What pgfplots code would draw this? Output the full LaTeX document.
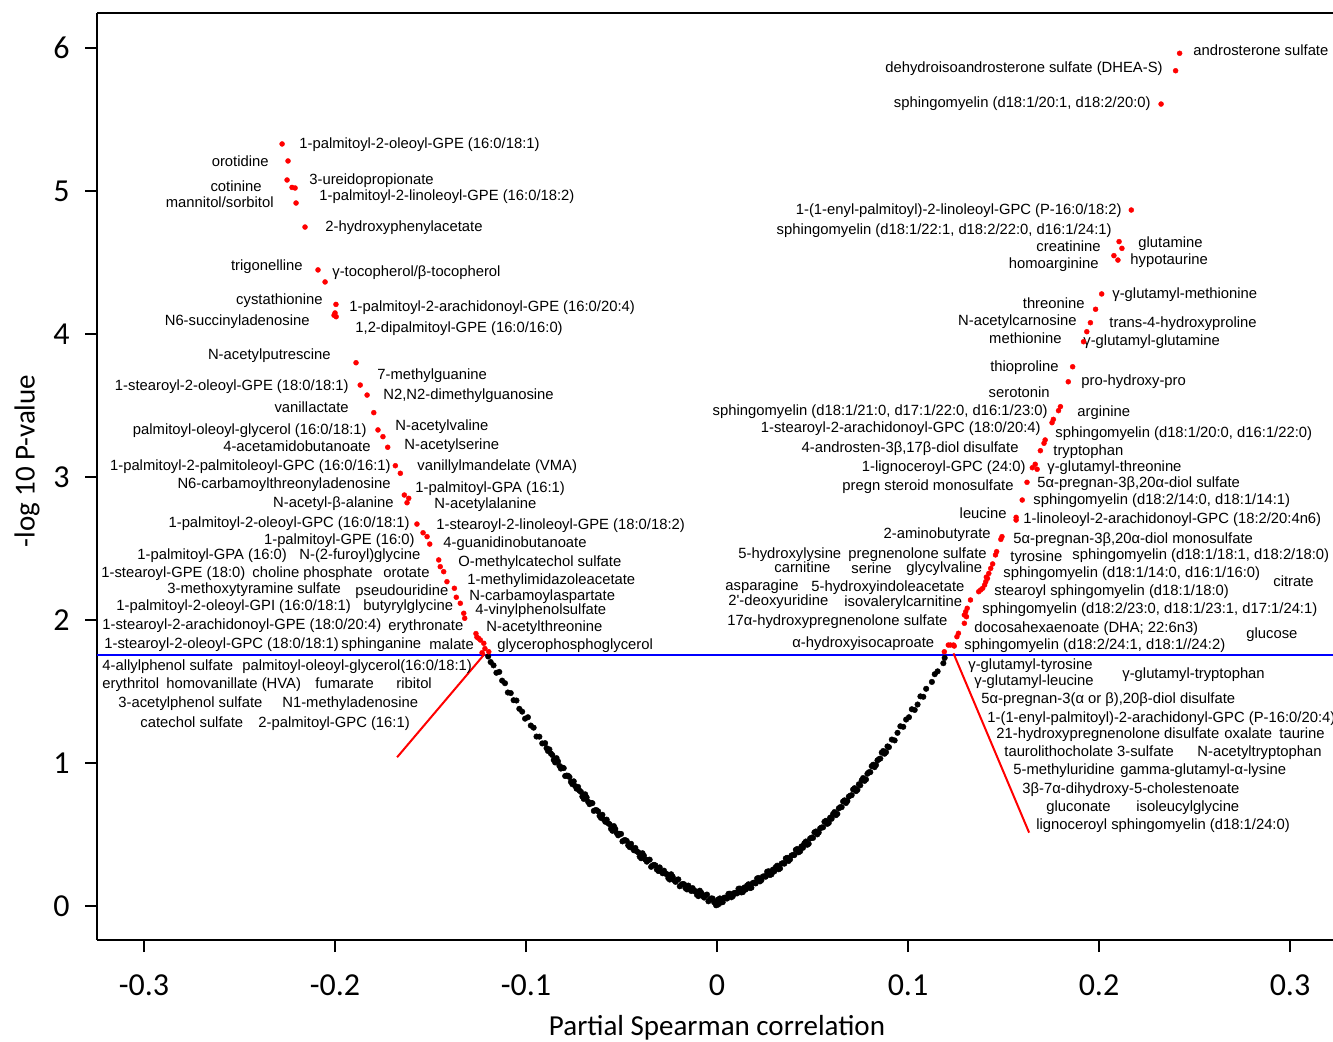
\documentclass[border=0pt]{standalone}
\usepackage{fontspec}
\setmainfont{Liberation Sans}
\newfontfamily\carlito{Carlito}
\usepackage{pgfplots}
\pgfplotsset{compat=1.18}
\pgfplotstableread{
x y
0.0000 0.012
-0.0005 0.005
0.0006 0.010
0.0012 0.022
-0.0011 0.030
-0.0015 0.026
-0.0030 0.053
-0.0045 0.033
-0.0060 0.075
-0.0075 0.070
-0.0090 0.107
-0.0105 0.078
-0.0120 0.105
-0.0135 0.105
-0.0150 0.143
-0.0165 0.125
-0.0180 0.154
-0.0195 0.138
-0.0210 0.183
-0.0225 0.181
-0.0240 0.222
-0.0255 0.195
-0.0270 0.226
-0.0285 0.229
-0.0300 0.270
-0.0315 0.255
-0.0330 0.288
-0.0345 0.274
-0.0360 0.323
-0.0375 0.324
-0.0390 0.369
-0.0405 0.346
-0.0420 0.382
-0.0435 0.390
-0.0450 0.435
-0.0465 0.424
-0.0480 0.461
-0.0495 0.452
-0.0510 0.505
-0.0525 0.510
-0.0540 0.559
-0.0555 0.540
-0.0570 0.579
-0.0585 0.589
-0.0600 0.638
-0.0615 0.630
-0.0630 0.670
-0.0645 0.665
-0.0660 0.721
-0.0675 0.729
-0.0690 0.781
-0.0705 0.765
-0.0720 0.807
-0.0735 0.820
-0.0750 0.872
-0.0765 0.868
-0.0780 0.911
-0.0795 0.909
-0.0810 0.968
-0.0825 0.980
-0.0840 1.034
-0.0855 1.021
-0.0870 1.067
-0.0885 1.084
-0.0900 1.139
-0.0915 1.137
-0.0930 1.184
-0.0945 1.185
-0.0960 1.247
-0.0975 1.262
-0.0990 1.320
-0.1005 1.310
-0.1020 1.359
-0.1035 1.379
-0.1050 1.437
-0.1065 1.439
-0.1080 1.489
-0.1095 1.493
-0.1110 1.558
-0.1125 1.576
-0.1140 1.637
-0.1155 1.631
-0.1170 1.683
-0.1185 1.706
-0.1198 1.745
-0.00075 0.019
-0.00225 0.052
-0.00375 0.045
-0.00525 0.080
-0.00675 0.059
-0.00825 0.093
-0.00975 0.069
-0.01125 0.104
-0.01275 0.125
-0.01425 0.117
-0.01575 0.116
-0.01725 0.152
-0.01875 0.148
-0.02025 0.186
-0.02175 0.169
-0.02325 0.206
-0.02475 0.185
-0.02625 0.223
-0.02775 0.247
-0.02925 0.242
-0.03075 0.245
-0.03225 0.284
-0.03375 0.283
-0.03525 0.324
-0.03675 0.310
-0.03825 0.351
-0.03975 0.334
-0.04125 0.376
-0.04275 0.406
-0.04425 0.405
-0.04575 0.412
-0.04725 0.455
-0.04875 0.459
-0.05025 0.504
-0.05175 0.494
-0.05325 0.539
-0.05475 0.526
-0.05625 0.572
-0.05775 0.604
-0.05925 0.606
-0.06075 0.616
-0.06225 0.662
-0.06375 0.670
-0.06525 0.719
-0.06675 0.712
-0.06825 0.759
-0.06975 0.749
-0.07125 0.798
-0.07275 0.833
-0.07425 0.839
-0.07575 0.852
-0.07725 0.902
-0.07875 0.912
-0.08025 0.964
-0.08175 0.961
-0.08325 1.011
-0.08475 1.004
-0.08625 1.056
-0.08775 1.095
-0.08925 1.104
0.0015 0.053
0.0030 0.027
0.0045 0.059
0.0060 0.085
0.0075 0.061
0.0090 0.091
0.0105 0.088
0.0120 0.122
0.0135 0.097
0.0150 0.115
0.0165 0.152
0.0180 0.128
0.0195 0.164
0.0210 0.193
0.0225 0.172
0.0240 0.206
0.0255 0.205
0.0270 0.243
0.0285 0.221
0.0300 0.242
0.0315 0.282
0.0330 0.262
0.0345 0.300
0.0360 0.333
0.0375 0.315
0.0390 0.353
0.0405 0.356
0.0420 0.399
0.0435 0.382
0.0450 0.407
0.0465 0.451
0.0480 0.435
0.0495 0.478
0.0510 0.515
0.0525 0.501
0.0540 0.543
0.0555 0.550
0.0570 0.596
0.0585 0.581
0.0600 0.610
0.0615 0.657
0.0630 0.644
0.0645 0.691
0.0660 0.731
0.0675 0.720
0.0690 0.765
0.0705 0.775
0.0720 0.824
0.0735 0.812
0.0750 0.844
0.0765 0.895
0.0780 0.885
0.0795 0.935
0.0810 0.978
0.0825 0.971
0.0840 1.018
0.0855 1.031
0.0870 1.084
0.0885 1.076
0.0900 1.111
0.0915 1.164
0.0930 1.158
0.0945 1.211
0.0960 1.257
0.0975 1.253
0.0990 1.304
0.1005 1.320
0.1020 1.376
0.1035 1.371
0.1050 1.409
0.1065 1.466
0.1080 1.463
0.1095 1.519
0.1125 1.567
0.1140 1.621
0.1155 1.641
0.1185 1.698
0.1192 1.735
0.00075 0.046
0.00225 0.025
0.00375 0.058
0.00525 0.052
0.00675 0.086
0.00825 0.068
0.00975 0.092
0.01125 0.121
0.01275 0.095
0.01425 0.129
0.01575 0.143
0.01725 0.125
0.01875 0.161
0.02025 0.158
0.02175 0.196
0.02325 0.181
0.02475 0.208
0.02625 0.240
0.02775 0.217
0.02925 0.254
0.03075 0.272
0.03225 0.257
0.03375 0.296
0.03525 0.296
0.03675 0.337
0.03825 0.326
0.03975 0.357
0.04125 0.393
0.04275 0.376
0.04425 0.417
0.04575 0.439
0.04725 0.428
0.04875 0.472
0.05025 0.476
0.05175 0.521
0.05325 0.514
0.05475 0.549
0.05625 0.589
0.05775 0.574
0.05925 0.618
0.06075 0.643
0.06225 0.635
0.06375 0.683
0.06525 0.691
0.06675 0.739
0.06825 0.734
0.06975 0.772
0.07125 0.815
0.07275 0.803
0.07425 0.851
0.07575 0.879
0.07725 0.875
0.07875 0.925
0.08025 0.936
0.08175 0.988
0.08325 0.986
0.08475 1.027
0.08625 1.073
0.08775 1.065
0.08925 1.116
}\blackpts
\pgfplotstableread{
x y
-0.2277 5.329
-0.2246 5.210
-0.2251 5.077
-0.2225 5.025
-0.2209 5.021
-0.2204 4.916
-0.2157 4.748
-0.2089 4.448
-0.2052 4.364
-0.1995 4.207
-0.2000 4.147
-0.2005 4.131
-0.1994 4.121
-0.1890 3.799
-0.1868 3.643
-0.1832 3.573
-0.1797 3.450
-0.1775 3.329
-0.1749 3.282
-0.1724 3.208
-0.1684 3.079
-0.1658 3.026
-0.1637 2.874
-0.1614 2.851
-0.1623 2.820
-0.1571 2.671
-0.1539 2.610
-0.1518 2.583
-0.1504 2.531
-0.1457 2.420
-0.1449 2.373
-0.1431 2.338
-0.1414 2.268
-0.1375 2.222
-0.1365 2.159
-0.1344 2.117
-0.1326 2.047
-0.1321 2.012
-0.1262 1.905
-0.1257 1.880
-0.1248 1.872
-0.1239 1.860
-0.1221 1.837
-0.1215 1.800
-0.1230 1.771
-0.1195 1.778
0.2422 5.963
0.2401 5.841
0.2325 5.608
0.2169 4.867
0.2105 4.646
0.2120 4.599
0.2078 4.548
0.2099 4.517
0.2014 4.280
0.1982 4.173
0.1955 4.079
0.1936 4.016
0.1919 3.946
0.1862 3.771
0.1839 3.666
0.1798 3.492
0.1788 3.464
0.1761 3.403
0.1754 3.380
0.1718 3.259
0.1712 3.236
0.1693 3.184
0.1666 3.089
0.1651 3.065
0.1676 3.054
0.1623 2.963
0.1598 2.839
0.1566 2.718
0.1566 2.699
0.1492 2.583
0.1486 2.564
0.1464 2.478
0.1458 2.455
0.1443 2.392
0.1433 2.361
0.1423 2.326
0.1416 2.291
0.1407 2.268
0.1401 2.245
0.1391 2.222
0.1380 2.210
0.1370 2.198
0.1410 2.300
0.1327 2.140
0.1310 2.082
0.1302 2.058
0.1295 2.035
0.1306 2.023
0.1295 1.977
0.1264 1.907
0.1256 1.883
0.1222 1.825
0.1242 1.818
0.1211 1.825
0.1238 1.825
0.1190 1.778
}\redpts
\begin{document}
\begin{tikzpicture}
\tikzset{lab/.style={font=\fontsize{7.4}{8}\selectfont, inner sep=0pt, text=black}}
\newcommand{\LW}[3]{\node[lab,anchor=base west] at (axis cs:{(#1-717)/1910},{(906-#2)/143}) {#3};}
\newcommand{\LE}[3]{\node[lab,anchor=base east] at (axis cs:{(#1-717)/1910},{(906-#2)/143}) {#3};}
\begin{axis}[name=ax, scale only axis, width=618pt, height=463.5pt,
  xmin=-0.32461, xmax=0.32251, ymin=-0.2378, ymax=6.2448,
  axis x line*=box, axis y line*=left,
  xtick={-0.3,-0.2,-0.1,0,0.1,0.2,0.3}, ytick={0,1,2,3,4,5,6},
  xtick pos=left, ytick pos=left, tick align=outside, major tick length=6pt,
  every tick/.style={black, line width=1pt},
  axis line style={black, line width=1pt},
  /pgf/number format/assume math mode=true,
  ticklabel style={font=\carlito\fontsize{16}{16}\selectfont, inner sep=0pt},
  xticklabel style={/pgf/number format/fixed, anchor=north, yshift=-11pt},
  yticklabel style={anchor=east, xshift=-7.5pt},
  xlabel={Partial Spearman correlation}, ylabel={-log 10 P-value},
  label style={font=\carlito\fontsize{14.5}{15}\selectfont},
  xlabel style={at={(axis description cs:0.5016,-0.09493)}, anchor=center},
  ylabel style={at={(axis description cs:-0.05663,0.5167)}, anchor=center, rotate=0},
  clip=false]
\addplot[blue, line width=1pt, forget plot] coordinates {(-0.32461,1.755) (0.32251,1.755)};
\addplot[only marks, mark=*, mark size=1.4pt, mark options={fill=black, draw=black, line width=0.2pt}] table[x=x,y=y] {\blackpts};
\addplot[only marks, mark=*, mark size=1.25pt, mark options={fill=red, draw=red, line width=0.2pt}] table[x=x,y=y] {\redpts};
\addplot[red, line width=1pt] coordinates {(-0.1675,1.040) (-0.1215,1.765)};
\addplot[red, line width=1pt] coordinates {(0.1238,1.767) (0.1634,0.513)};
% left labels
\LW{299}{149}{1-palmitoyl-2-oleoyl-GPE (16:0/18:1)}
\LE{269}{167}{orotidine}
\LW{309}{185}{3-ureidopropionate}
\LE{262}{192}{cotinine}
\LW{319}{201}{1-palmitoyl-2-linoleoyl-GPE (16:0/18:2)}
\LE{274}{208}{mannitol/sorbitol}
\LW{325}{232}{2-hydroxyphenylacetate}
\LE{303}{271}{trigonelline}
\LW{332}{277}{γ-tocopherol/β-tocopherol}
\LE{323}{305}{cystathionine}
\LW{349}{312}{1-palmitoyl-2-arachidonoyl-GPE (16:0/20:4)}
\LE{310}{326}{N6-succinyladenosine}
\LW{355}{332}{1,2-dipalmitoyl-GPE (16:0/16:0)}
\LE{331}{360}{N-acetylputrescine}
\LW{377}{379}{7-methylguanine}
\LE{349}{390}{1-stearoyl-2-oleoyl-GPE (18:0/18:1)}
\LW{383}{400}{N2,N2-dimethylguanosine}
\LE{349}{413}{vanillactate}
\LE{367}{434}{palmitoyl-oleoyl-glycerol (16:0/18:1)}
\LW{395}{431}{N-acetylvaline}
\LE{371}{451}{4-acetamidobutanoate}
\LW{404}{449}{N-acetylserine}
\LE{391}{470}{1-palmitoyl-2-palmitoleoyl-GPC (16:0/16:1)}
\LW{417}{470}{vanillylmandelate (VMA)}
\LE{391}{488}{N6-carbamoylthreonyladenosine}
\LW{415}{492}{1-palmitoyl-GPA (16:1)}
\LE{394}{507}{N-acetyl-β-alanine}
\LW{434}{508}{N-acetylalanine}
\LE{410}{527}{1-palmitoyl-2-oleoyl-GPC (16:0/18:1)}
\LW{436}{529}{1-stearoyl-2-linoleoyl-GPE (18:0/18:2)}
\LE{415}{544}{1-palmitoyl-GPE (16:0)}
\LW{443}{547}{4-guanidinobutanoate}
\LW{137}{559}{1-palmitoyl-GPA (16:0)}
\LW{299}{559}{N-(2-furoyl)glycine}
\LW{458}{566}{O-methylcatechol sulfate}
\LW{101}{577}{1-stearoyl-GPE (18:0)}
\LW{252}{577}{choline phosphate}
\LW{383}{577}{orotate}
\LW{467}{584}{1-methylimidazoleacetate}
\LW{167}{593}{3-methoxytyramine sulfate}
\LW{355}{595}{pseudouridine}
\LW{469}{600}{N-carbamoylaspartate}
\LW{116}{610}{1-palmitoyl-2-oleoyl-GPI (16:0/18:1)}
\LW{363}{610}{butyrylglycine}
\LW{475}{614}{4-vinylphenolsulfate}
\LW{102}{629}{1-stearoyl-2-arachidonoyl-GPE (18:0/20:4)}
\LW{388}{630}{erythronate}
\LW{486}{631}{N-acetylthreonine}
\LW{104}{648}{1-stearoyl-2-oleoyl-GPC (18:0/18:1)}
\LW{341}{648}{sphinganine}
\LW{429}{649}{malate}
\LW{497}{649}{glycerophosphoglycerol}
\LW{102}{670}{4-allylphenol sulfate}
\LW{242}{670}{palmitoyl-oleoyl-glycerol(16:0/18:1)}
\LW{102}{688}{erythritol}
\LW{166}{688}{homovanillate (HVA)}
\LW{315}{688}{fumarate}
\LW{396}{688}{ribitol}
\LW{118}{707}{3-acetylphenol sulfate}
\LW{282}{707}{N1-methyladenosine}
\LW{140}{727}{catechol sulfate}
\LW{258}{727}{2-palmitoyl-GPC (16:1)}
% right labels
\LW{1193}{56}{androsterone sulfate}
\LE{1163}{73}{dehydroisoandrosterone sulfate (DHEA-S)}
\LE{1151}{108}{sphingomyelin (d18:1/20:1, d18:2/20:0)}
\LE{1122}{215}{1-(1-enyl-palmitoyl)-2-linoleoyl-GPC (P-16:0/18:2)}
\LE{1112}{235}{sphingomyelin (d18:1/22:1, d18:2/22:0, d16:1/24:1)}
\LE{1101}{252}{creatinine}
\LW{1138}{248}{glutamine}
\LE{1099}{268}{homoarginine}
\LW{1130}{264}{hypotaurine}
\LW{1112}{298}{γ-glutamyl-methionine}
\LE{1085}{308}{threonine}
\LE{1077}{326}{N-acetylcarnosine}
\LW{1109}{327}{trans-4-hydroxyproline}
\LE{1062}{344}{methionine}
\LW{1083}{346}{γ-glutamyl-glutamine}
\LE{1059}{371}{thioproline}
\LW{1081}{385}{pro-hydroxy-pro}
\LE{1050}{397}{serotonin}
\LE{1048}{415}{sphingomyelin (d18:1/21:0, d17:1/22:0, d16:1/23:0)}
\LW{1077}{417}{arginine}
\LE{1041}{433}{1-stearoyl-2-arachidonoyl-GPC (18:0/20:4)}
\LW{1055}{437}{sphingomyelin (d18:1/20:0, d16:1/22:0)}
\LE{1019}{452}{4-androsten-3β,17β-diol disulfate}
\LW{1053}{455}{tryptophan}
\LE{1026}{471}{1-lignoceroyl-GPC (24:0)}
\LW{1047}{471}{γ-glutamyl-threonine}
\LE{1014}{490}{pregn steroid monosulfate}
\LW{1037}{487}{5α-pregnan-3β,20α-diol sulfate}
\LW{1033}{504}{sphingomyelin (d18:2/14:0, d18:1/14:1)}
\LE{1007}{518}{leucine}
\LW{1023}{523}{1-linoleoyl-2-arachidonoyl-GPC (18:2/20:4n6)}
\LE{991}{539}{2-aminobutyrate}
\LW{1013}{543}{5α-pregnan-3β,20α-diol monosulfate}
\LW{738}{558}{5-hydroxylysine}
\LW{848}{558}{pregnenolone sulfate}
\LW{1010}{561}{tyrosine}
\LW{1072}{559}{sphingomyelin (d18:1/18:1, d18:2/18:0)}
\LW{774}{572}{carnitine}
\LW{851}{573}{serine}
\LW{906}{572}{glycylvaline}
\LW{1003}{577}{sphingomyelin (d18:1/14:0, d16:1/16:0)}
\LW{1273}{586}{citrate}
\LW{725}{590}{asparagine}
\LW{811}{591}{5-hydroxyindoleacetate}
\LW{994}{595}{stearoyl sphingomyelin (d18:1/18:0)}
\LW{728}{605}{2\textquotesingle-deoxyuridine}
\LW{844}{606}{isovalerylcarnitine}
\LW{982}{613}{sphingomyelin (d18:2/23:0, d18:1/23:1, d17:1/24:1)}
\LW{727}{625}{17α-hydroxypregnenolone sulfate}
\LW{974}{632}{docosahexaenoate (DHA; 22:6n3)}
\LW{1246}{638}{glucose}
\LW{792}{647}{α-hydroxyisocaproate}
\LW{964}{649}{sphingomyelin (d18:2/24:1, d18:1//24:2)}
\LW{968}{669}{γ-glutamyl-tyrosine}
\LW{974}{685}{γ-glutamyl-leucine}
\LW{1122}{678}{γ-glutamyl-tryptophan}
\LW{981}{703}{5α-pregnan-3(α or β),20β-diol disulfate}
\LW{987}{722}{1-(1-enyl-palmitoyl)-2-arachidonyl-GPC (P-16:0/20:4)}
\LW{996}{738}{21-hydroxypregnenolone disulfate}
\LW{1224}{738}{oxalate}
\LW{1279}{738}{taurine}
\LW{1004}{756}{taurolithocholate 3-sulfate}
\LW{1197}{756}{N-acetyltryptophan}
\LW{1013}{774}{5-methyluridine}
\LW{1120}{774}{gamma-glutamyl-α-lysine}
\LW{1022}{793}{3β-7α-dihydroxy-5-cholestenoate}
\LW{1046}{811}{gluconate}
\LW{1136}{811}{isoleucylglycine}
\LW{1036}{829}{lignoceroyl sphingomyelin (d18:1/24:0)}
\end{axis}
\pgfresetboundingbox
\path[use as bounding box] ([xshift=-48.5pt,yshift=-50.5pt]ax.south west) rectangle ([yshift=6.5pt]ax.north east);
\end{tikzpicture}
\end{document}
